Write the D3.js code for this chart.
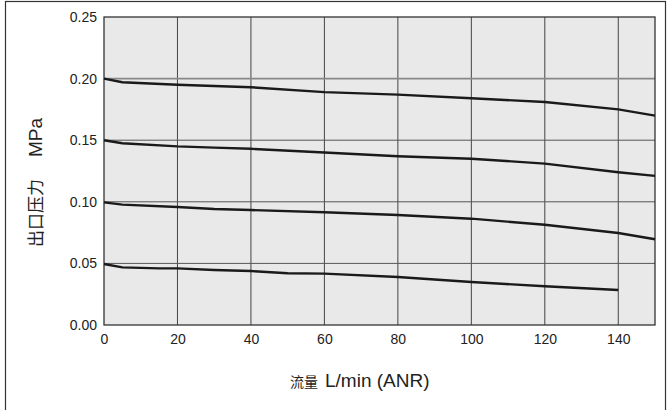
<!DOCTYPE html>
<html>
<head>
<meta charset="utf-8">
<title>出口压力 - 流量</title>
<script src="https://d3js.org/d3.v7.min.js"></script>
<style>
  body, html { margin: 0; padding: 0; background: #fff; overflow: hidden; }
  svg { display: block; }
  .tick text { font-family: "Liberation Sans", Arial, sans-serif; font-size: 14px; fill: #222; }
  .title { font-family: "Liberation Sans", Arial, sans-serif; fill: #222; }
  .cjk { font-family: "Noto Sans CJK SC", sans-serif; }
</style>
</head>
<body>
<svg id="chart" width="667" height="410"></svg>
<script>
// flow values (L/min ANR) where the curves were read
var flow = [0, 5, 20, 30, 40, 60, 80, 100, 120, 140, 150];
var p020 = [0.200, 0.197, 0.195, 0.194, 0.193, 0.189, 0.187, 0.184, 0.181, 0.175, 0.170];
var p015 = [0.150, 0.1475, 0.145, 0.144, 0.143, 0.140, 0.137, 0.135, 0.131, 0.124, 0.121];
var p010 = [0.0995, 0.0977, 0.0958, 0.0942, 0.0933, 0.0915, 0.0893, 0.0863, 0.0814, 0.0747, 0.0696];
// lowest curve stops at 140
var flowLow = [0, 5, 15, 20, 30, 40, 50, 60, 80, 100, 120, 140];
var p005 = [0.0495, 0.0468, 0.046, 0.046, 0.0446, 0.0438, 0.042, 0.0417, 0.039, 0.0349, 0.0314, 0.0284];

var xTicks = [0, 20, 40, 60, 80, 100, 120, 140];
var yTicks = [0, 0.05, 0.10, 0.15, 0.20, 0.25];

var svg = d3.select("#chart");
var plotL = 104, plotR = 655, plotT = 17, plotB = 325;

var x = d3.scaleLinear().domain([0, 150]).range([plotL, plotR]);
var y = d3.scaleLinear().domain([0, 0.25]).range([plotB, plotT]);

// outer frame
svg.append("rect")
  .attr("x", 5.5).attr("y", 1.5)
  .attr("width", 660).attr("height", 420)
  .attr("fill", "none").attr("stroke", "#333").attr("stroke-width", 1.2);

// plot background
svg.append("rect")
  .attr("x", plotL).attr("y", plotT)
  .attr("width", plotR - plotL).attr("height", plotB - plotT)
  .attr("fill", "#e9e9e9");

// vertical grid
svg.append("g").selectAll("line")
  .data(xTicks.filter(function(d) { return d > 0; }))
  .join("line")
  .attr("x1", function(d) { return x(d); }).attr("x2", function(d) { return x(d); })
  .attr("y1", plotT).attr("y2", plotB)
  .attr("stroke", "#444").attr("stroke-width", 1);

// horizontal grid
svg.append("g").selectAll("line")
  .data(yTicks.filter(function(d) { return d > 0 && d < 0.25; }))
  .join("line")
  .attr("x1", plotL).attr("x2", plotR)
  .attr("y1", function(d) { return y(d); }).attr("y2", function(d) { return y(d); })
  .attr("stroke", function(d) { return d === 0.20 ? "#888" : "#555"; })
  .attr("stroke-width", function(d) { return d === 0.20 ? 1.6 : 1; });

// plot border
svg.append("rect")
  .attr("x", plotL).attr("y", plotT)
  .attr("width", plotR - plotL).attr("height", plotB - plotT)
  .attr("fill", "none").attr("stroke", "#333").attr("stroke-width", 1.3);

// axes (labels only)
svg.append("g")
  .attr("transform", "translate(0," + plotB + ")")
  .call(d3.axisBottom(x).tickValues(xTicks).tickSize(0).tickPadding(9).tickFormat(d3.format("d")))
  .call(function(g) { g.select(".domain").remove(); });

svg.append("g")
  .attr("transform", "translate(" + plotL + ",0)")
  .call(d3.axisLeft(y).tickValues(yTicks).tickSize(0).tickPadding(7).tickFormat(d3.format(".2f")))
  .call(function(g) { g.select(".domain").remove(); });

// curves
var line = d3.line()
  .x(function(d) { return x(d[0]); })
  .y(function(d) { return y(d[1]); });

var curves = [
  d3.zip(flow, p020),
  d3.zip(flow, p015),
  d3.zip(flow, p010),
  d3.zip(flowLow, p005)
];

svg.append("g").selectAll("path")
  .data(curves)
  .join("path")
  .attr("d", line)
  .attr("fill", "none")
  .attr("stroke", "#1a1a1a")
  .attr("stroke-width", 2.4);

// x axis title
var xt = svg.append("text")
  .attr("class", "title")
  .attr("x", 290).attr("y", 387);
xt.append("tspan").attr("class", "cjk").style("font-size", "14px").text("流量");
xt.append("tspan").attr("dx", 7).style("font-size", "19px").text("L/min (ANR)");

// y axis title
var yt = svg.append("text")
  .attr("class", "title")
  .attr("transform", "translate(42,247) rotate(-90)");
yt.append("tspan").attr("class", "cjk").style("font-size", "17px").text("出口压力");
yt.append("tspan").attr("dx", 22).style("font-size", "19px").text("MPa");
</script>
</body>
</html>
